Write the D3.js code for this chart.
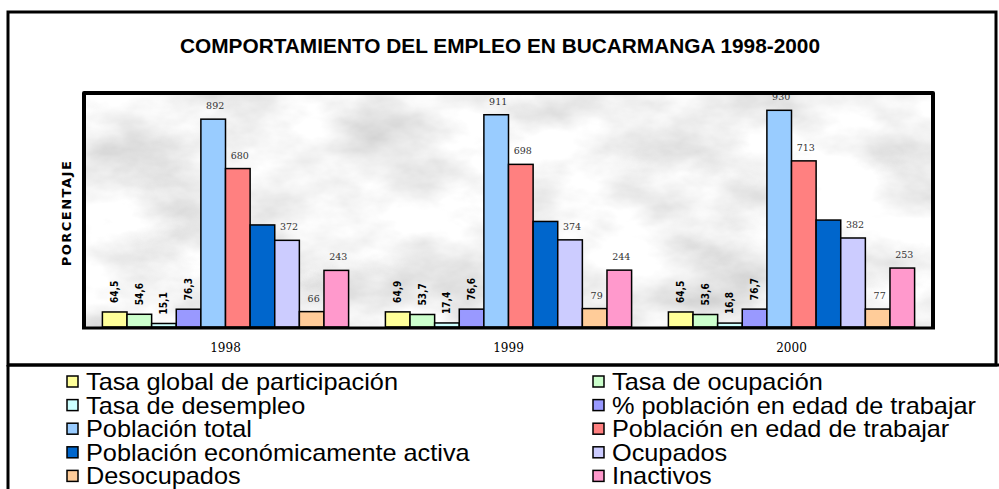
<!DOCTYPE html>
<html>
<head>
<meta charset="utf-8">
<script src="https://cdn.jsdelivr.net/npm/d3@7"></script>
<style>
  body { margin: 0; background: #fff; }
  svg { display: block; }
</style>
</head>
<body>
<div id="chart"></div>
<script>
const years = ["1998", "1999", "2000"];

const seriesNames = [
  "Tasa global de participación",
  "Tasa de ocupación",
  "Tasa de desempleo",
  "% población en edad de trabajar",
  "Población total",
  "Población en edad de trabajar",
  "Población económicamente activa",
  "Ocupados",
  "Desocupados",
  "Inactivos"
];

const tasaGlobal = [64.5, 64.9, 64.5];
const tasaOcupacion = [54.6, 53.7, 53.6];
const tasaDesempleo = [15.1, 17.4, 16.8];
const pctPET = [76.3, 76.6, 76.7];
const poblacionTotal = [892, 911, 930];
const pet = [680, 698, 713];
const pea = [438, 453, 459];
const ocupados = [372, 374, 382];
const desocupados = [66, 79, 77];
const inactivos = [243, 244, 253];

const seriesValues = [tasaGlobal, tasaOcupacion, tasaDesempleo, pctPET,
  poblacionTotal, pet, pea, ocupados, desocupados, inactivos];

const colors = ["#FFFF99", "#CCFFCC", "#CCFFFF", "#9999FF", "#99CCFF",
  "#FF8080", "#0066CC", "#CCCCFF", "#FFCC99", "#FF99CC"];

const W = 999, H = 489;
const svg = d3.select("#chart").append("svg")
  .attr("width", W).attr("height", H);

// marble-ish background for plot area
const defs = svg.append("defs");
const f = defs.append("filter").attr("id", "marble")
  .attr("x", 0).attr("y", 0).attr("width", 1).attr("height", 1);
f.append("feTurbulence").attr("type", "fractalNoise")
  .attr("baseFrequency", "0.009 0.016").attr("numOctaves", 5).attr("seed", 7);
f.append("feColorMatrix").attr("type", "matrix")
  .attr("values", "0.75 0 0 0 0.52  0.75 0 0 0 0.52  0.75 0 0 0 0.52  0 0 0 0 1");

// outer frame
svg.append("rect").attr("x", 8).attr("y", 12).attr("width", 988).attr("height", 353)
  .attr("fill", "#fff").attr("stroke", "#000").attr("stroke-width", 3);
svg.append("path").attr("d", "M8,365V489M8,365H999")
  .attr("stroke", "#000").attr("stroke-width", 3).attr("fill", "none");

svg.append("text").attr("x", 500).attr("y", 53)
  .attr("text-anchor", "middle")
  .style("font-family", "'Liberation Sans', Arial, sans-serif")
  .style("font-weight", "bold").style("font-size", "20px")
  .attr("textLength", 640).attr("lengthAdjust", "spacingAndGlyphs")
  .text("COMPORTAMIENTO DEL EMPLEO EN BUCARMANGA 1998-2000");

const plot = { left: 84, right: 933, top: 93, bottom: 328 };

svg.append("rect").attr("x", plot.left).attr("y", plot.top)
  .attr("width", plot.right - plot.left).attr("height", plot.bottom - plot.top)
  .attr("filter", "url(#marble)");

const x0 = d3.scaleBand().domain(years)
  .range([plot.left, plot.right]).paddingInner(0.13).paddingOuter(0.065);
const x1 = d3.scaleBand().domain(d3.range(seriesNames.length))
  .range([0, x0.bandwidth()]);
const y = d3.scaleLinear().domain([0, 1000]).range([plot.bottom - 1, plot.top + 1]);

const fmt = v => d3.format(".1f")(v).replace(".", ",");

const groups = svg.selectAll(".year").data(years).enter().append("g")
  .attr("transform", d => "translate(" + x0(d) + ",0)");

groups.selectAll("rect").data((d, i) => seriesValues.map((s, k) => ({ k: k, v: s[i] })))
  .enter().append("rect")
  .attr("x", d => x1(d.k))
  .attr("y", d => y(d.v))
  .attr("width", x1.bandwidth())
  .attr("height", d => y(0) - y(d.v))
  .attr("fill", d => colors[d.k])
  .attr("stroke", "#000").attr("stroke-width", 1.5);

// rotated labels for the rates
groups.selectAll(".rate").data((d, i) => seriesValues.slice(0, 4).map((s, k) => ({ k: k, v: s[i] })))
  .enter().append("text")
  .attr("transform", d => "translate(" + (x1(d.k) + x1.bandwidth() / 2 + 3.5) + "," + (y(d.v) - 9) + ") rotate(-90)")
  .style("font-family", "'DejaVu Sans Condensed', 'DejaVu Sans', sans-serif")
  .style("font-weight", "bold").style("font-size", "10px")
  .text(d => fmt(d.v));

// labels for the populations (PEA label not shown)
groups.selectAll(".pop").data((d, i) => seriesValues.map((s, k) => ({ k: k, v: s[i] })).filter(d => d.k >= 4 && d.k !== 6))
  .enter().append("text")
  .attr("x", d => x1(d.k) + x1.bandwidth() / 2 + 2)
  .attr("y", d => y(d.v) - 10)
  .attr("text-anchor", "middle")
  .style("font-family", "'DejaVu Serif', serif")
  .style("font-size", "9.5px").style("fill", "#333")
  .text(d => d.v);

// plot border and category axis
svg.append("path")
  .attr("d", "M" + plot.left + "," + plot.bottom + "V" + plot.top + "H" + plot.right + "V" + plot.bottom)
  .attr("fill", "none").attr("stroke", "#000").attr("stroke-width", 4).attr("stroke-linejoin", "round");
svg.append("line").attr("x1", plot.left - 2).attr("x2", plot.right + 2)
  .attr("y1", plot.bottom).attr("y2", plot.bottom)
  .attr("stroke", "#000").attr("stroke-width", 3);

const xAxis = svg.append("g").attr("transform", "translate(0," + plot.bottom + ")")
  .call(d3.axisBottom(x0).tickSize(0).tickPadding(15));
xAxis.select(".domain").remove();
xAxis.selectAll("text")
  .style("font-family", "'DejaVu Serif', serif").style("font-size", "12px").style("fill", "#000");

svg.append("text")
  .attr("transform", "translate(71,213) rotate(-90)")
  .attr("text-anchor", "middle")
  .style("font-family", "'DejaVu Sans', sans-serif")
  .style("font-weight", "bold").style("font-size", "13px")
  .style("letter-spacing", "1.5px")
  .text("PORCENTAJE");

// legend, two columns
const legendCols = [67, 593];
const legend = svg.selectAll(".leg").data(seriesNames).enter().append("g")
  .attr("transform", (d, i) => "translate(" + legendCols[i % 2] + "," + (382 + Math.floor(i / 2) * 23.6) + ")");
legend.append("rect").attr("x", 0).attr("y", -6).attr("width", 11).attr("height", 11)
  .attr("fill", (d, i) => colors[i]).attr("stroke", "#000").attr("stroke-width", 1.5);
legend.append("text")
  .attr("transform", "translate(19,8) scale(1.1,1)")
  .style("font-family", "'Liberation Sans', Arial, sans-serif")
  .style("font-size", "23px")
  .text(d => d);
</script>
</body>
</html>
